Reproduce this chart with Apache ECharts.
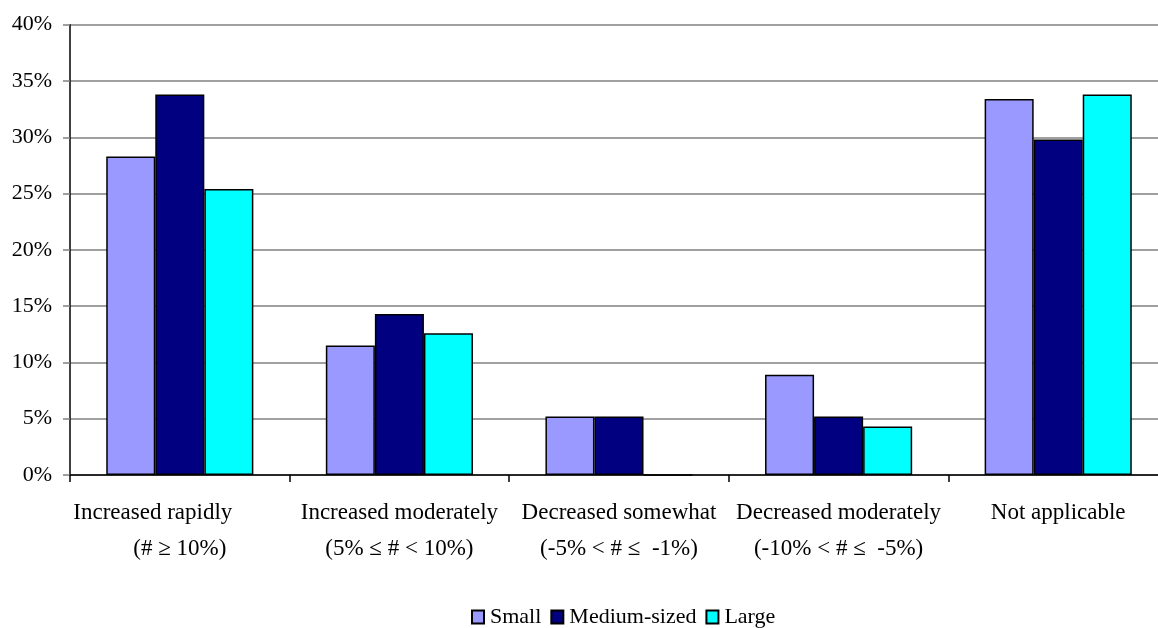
<!DOCTYPE html>
<html>
<head>
<meta charset="utf-8">
<script src="https://cdn.jsdelivr.net/npm/echarts@6/dist/echarts.min.js"></script>
<style>
html,body{margin:0;padding:0;background:#fff;overflow:hidden;width:1158px;height:628px;}
#chart{width:1168px;height:628px;}
</style>
</head>
<body>
<div id="chart"></div>
<script>
const categories = ['Increased rapidly', 'Increased moderately', 'Decreased somewhat', 'Decreased moderately', 'Not applicable'];
const categorySubLabels = ['(# \u2265 10%)', '(5% \u2264 # < 10%)', '(-5% < # \u2264  -1%)', '(-10% < # \u2264  -5%)', ''];
const seriesNames = ['Small', 'Medium-sized', 'Large'];
const smallValues = [28.3, 11.5, 5.2, 8.9, 33.4];
const mediumValues = [33.8, 14.3, 5.2, 5.2, 29.8];
const largeValues = [25.4, 12.6, 0, 4.3, 33.8];
const yTicks = [0, 5, 10, 15, 20, 25, 30, 35, 40];

const FONT = '"Liberation Serif", "Times New Roman", serif';
const colors = ['#9999FF', '#000080', '#00FFFF'];
const values = [smallValues, mediumValues, largeValues];

const chart = echarts.init(document.getElementById('chart'));
chart.setOption({
  animation: false,
  backgroundColor: '#ffffff',
  textStyle: { fontFamily: FONT, color: '#000' },
  legend: {
    data: seriesNames.map(function (n) { return { name: n, icon: 'rect' }; }),
    left: 466,
    top: 601,
    itemWidth: 12,
    itemHeight: 13,
    itemGap: 9,
    textStyle: { fontFamily: FONT, fontSize: 22, color: '#000', padding: [0, 0, 0, 1] }
  },
  grid: { left: 70, right: 0, top: 24.7, bottom: 153, containLabel: false },
  xAxis: {
    type: 'category',
    data: categories,
    axisLine: { lineStyle: { color: '#000', width: 1.5 } },
    axisTick: { show: true, length: 7, lineStyle: { color: '#000', width: 1.5 } },
    axisLabel: {
      interval: 0,
      margin: 20,
      fontFamily: FONT,
      fontSize: 23,
      color: '#000',
      lineHeight: 36,
      formatter: function (v, i) {
        const first = i === 0 ? '{f|' + v + '}' : '{a|' + v + '}';
        const sub = categorySubLabels[i];
        return sub ? first + '\n{b|' + sub + '}' : first;
      },
      rich: {
        a: { fontFamily: FONT, fontSize: 23, color: '#000', lineHeight: 36 },
        f: { fontFamily: FONT, fontSize: 23, color: '#000', lineHeight: 36, padding: [0, 54, 0, 0] },
        b: { fontFamily: FONT, fontSize: 23, color: '#000', lineHeight: 36 }
      }
    }
  },
  yAxis: {
    type: 'value',
    min: yTicks[0],
    max: yTicks[yTicks.length - 1],
    interval: yTicks[1] - yTicks[0],
    axisLine: { show: true, lineStyle: { color: '#000', width: 1.5 } },
    axisTick: { show: true, length: 7, lineStyle: { color: '#808080', width: 1.5 } },
    axisLabel: {
      margin: 18,
      fontFamily: FONT,
      fontSize: 22,
      color: '#000',
      formatter: '{value}%'
    },
    splitLine: { show: true, lineStyle: { color: '#808080', width: 1.5 } }
  },
  series: seriesNames.map(function (name, k) {
    return {
      name: name,
      type: 'bar',
      data: values[k],
      barGap: '0%',
      barCategoryGap: '33%',
      itemStyle: { color: colors[k], borderColor: '#000', borderWidth: 1.5 }
    };
  })
});
</script>
</body>
</html>
